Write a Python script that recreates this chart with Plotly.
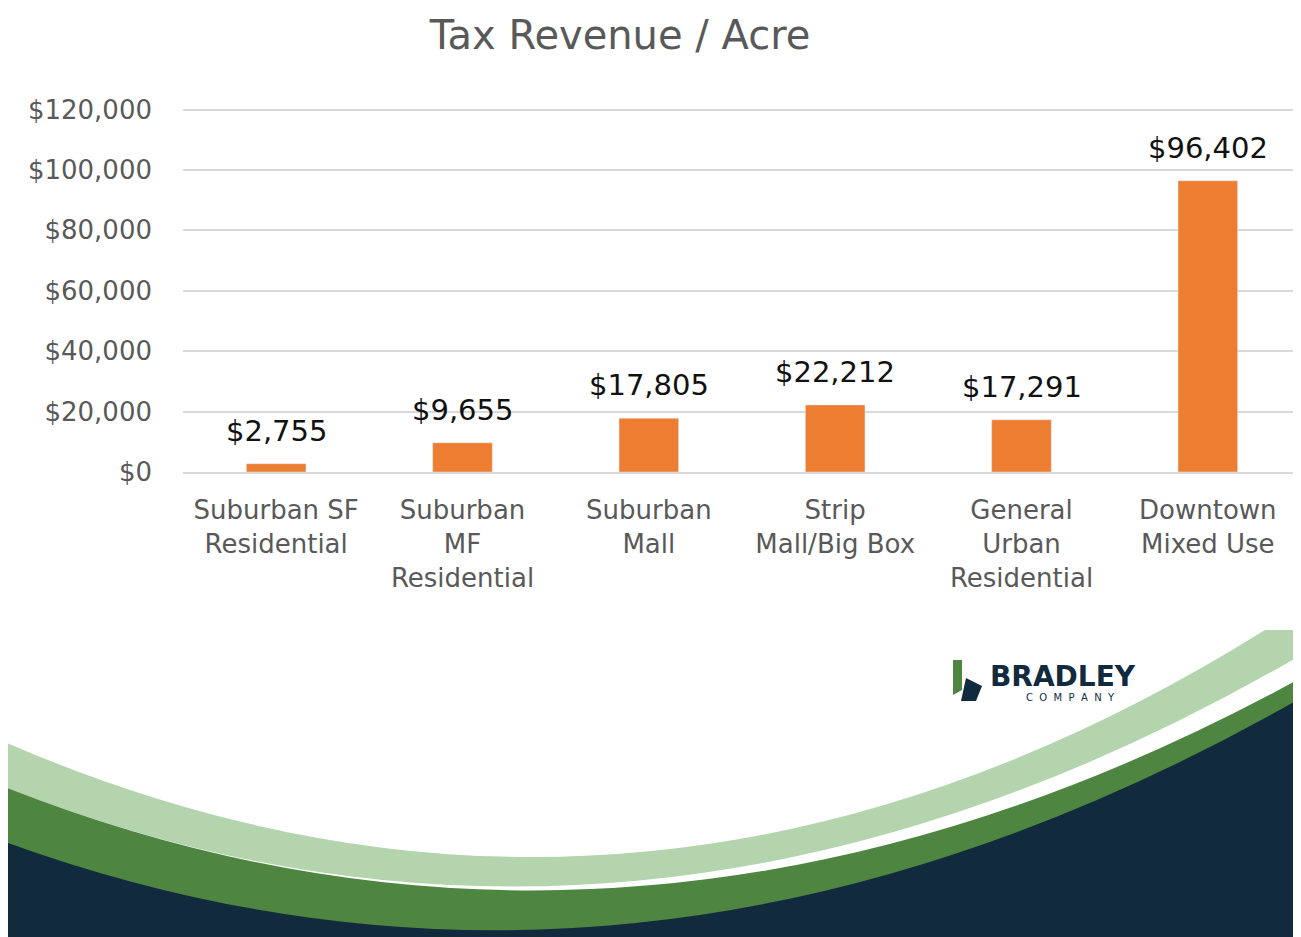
import plotly.graph_objects as go

categories = ["Suburban SF<br>Residential", "Suburban<br>MF<br>Residential", "Suburban<br>Mall",
              "Strip<br>Mall/Big Box", "General<br>Urban<br>Residential", "Downtown<br>Mixed Use"]
values = [2755, 9655, 17805, 22212, 17291, 96402]
tick_vals = [0, 20000, 40000, 60000, 80000, 100000, 120000]
tick_text = ["$0", "$20,000", "$40,000", "$60,000", "$80,000", "$100,000", "$120,000"]

OFF = 8  # page offset of the plot in the screenshot
W, H = 1301 - OFF, 937 - OFF
L, R, T = 183 - OFF, 0, 108 - OFF
B = H - (472 - OFF)
pw, ph = W - L - R, H - T - B

def px(x, y):
    # reference screenshot pixel -> paper coords
    x, y = x - OFF, y - OFF
    return (x - L) / pw, (H - B - y) / ph

def pt(x, y):
    a, b = px(x, y)
    return "%.5f,%.5f" % (a, b)

FONT = "DejaVu Sans"
fig = go.Figure(go.Bar(x=categories, y=values, marker_color="#ED7D31", width=0.32))

shapes = []
for color, p0, c, p1 in [
    ("#B3D4AC", (0, 740), (640, 1020), (1265, 630)),
    ("#FFFFFF", (0, 785), (640, 1040), (1301, 655)),
    ("#4E8540", (0, 785), (640, 1040), (1301, 678)),
    ("#112A3D", (0, 840), (640, 1075), (1301, 698)),
]:
    d = ("M" + pt(*p0) + " Q" + pt(*c) + " " + pt(*p1) + " L" + pt(1310, p1[1]) +
         " L" + pt(1310, 945) + " L" + pt(-10, 945) + " L" + pt(-10, p0[1]) + " Z")
    shapes.append(dict(type="path", path=d, xref="paper", yref="paper",
                       fillcolor=color, line=dict(width=0), layer="above"))
# logo mark
shapes.append(dict(type="path", xref="paper", yref="paper", fillcolor="#4E8540", line=dict(width=0),
                   path="M" + pt(953, 660) + " L" + pt(962, 660) + " L" + pt(962, 690) + " L" + pt(953, 695) + " Z"))
shapes.append(dict(type="path", xref="paper", yref="paper", fillcolor="#112A3D", line=dict(width=0),
                   path="M" + pt(966, 678) + " L" + pt(982, 686) + " L" + pt(976, 701) + " L" + pt(961, 701) + " Z"))

annotations = [
    dict(x=c, y=v, text="$" + format(v, ","), showarrow=False, yanchor="bottom", yshift=14,
         font=dict(size=29, color="#111111", family=FONT))
    for c, v in zip(categories, values)
]
lx, ly = px(988, 676)
cx, cy = px(1070, 697)
annotations += [
    dict(text="<b>BRADLEY</b>", x=lx, y=ly, xref="paper", yref="paper", xanchor="left",
         yanchor="middle", showarrow=False, font=dict(size=28, color="#112A3D", family=FONT)),
    dict(text="C  O  M  P  A  N  Y", x=cx, y=cy, xref="paper", yref="paper", xanchor="center",
         yanchor="middle", showarrow=False, font=dict(size=10, color="#112A3D", family=FONT)),
]

fig.update_layout(
    width=W, height=H, margin=dict(l=L, r=R, t=T, b=B),
    paper_bgcolor="white", plot_bgcolor="white",
    title=dict(text="Tax Revenue / Acre", x=612 / W, xanchor="center", y=1 - 27 / H, yanchor="middle",
               font=dict(size=40, color="#595959", family=FONT)),
    yaxis=dict(range=[0, 120500], tickvals=tick_vals, ticktext=tick_text, showgrid=True,
               gridcolor="#D9D9D9", gridwidth=2, zeroline=False, ticks="", ticklabelstandoff=30,
               tickfont=dict(size=26, color="#595959", family=FONT)),
    xaxis=dict(showline=True, linecolor="#D9D9D9", linewidth=2, ticks="", ticklabelstandoff=14,
               tickfont=dict(size=26, color="#595959", family=FONT)),
    shapes=shapes, showlegend=False, bargap=0.68, annotations=annotations,
)
fig.write_html("out.html")
